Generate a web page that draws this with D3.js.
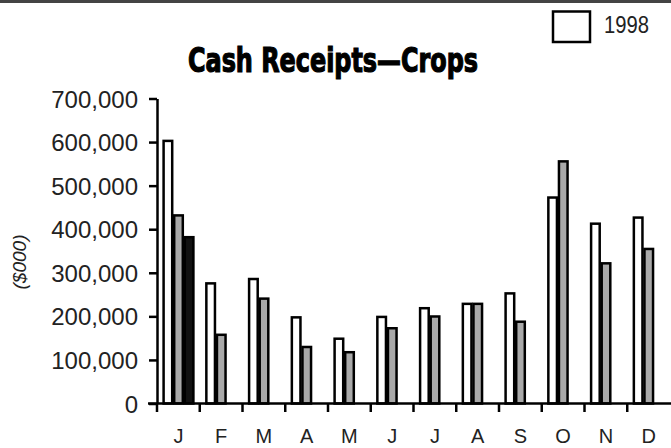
<!DOCTYPE html>
<html>
<head>
<meta charset="utf-8">
<script src="https://cdn.jsdelivr.net/npm/d3@7"></script>
<style>
  body { margin: 0; background: #fff; }
  svg { display: block; }
</style>
</head>
<body>
<div id="SVG_CONTAINER"></div>
<script>
// months along the x axis
const months = ["J", "F", "M", "A", "M", "J", "J", "A", "S", "O", "N", "D"];
const series = ["1998", "1999", "2000"];

// cash receipts, $000
const values1998 = [605000, 278000, 288000, 200000, 151000, 201000, 221000, 231000, 255000, 475000, 415000, 429000];
const values1999 = [434000, 160000, 243000, 132000, 120000, 175000, 202000, 231000, 190000, 558000, 324000, 357000];
const values2000 = [384000, null, null, null, null, null, null, null, null, null, null, null];

const yTicks = [0, 100000, 200000, 300000, 400000, 500000, 600000, 700000];

const width = 671, height = 448;

const svg = d3.select("#SVG_CONTAINER")
    .append("svg")
    .attr("width", width)
    .attr("height", height);

// dark scan edge on top
svg.append("rect")
    .attr("x", 0).attr("y", 0)
    .attr("width", width).attr("height", 3)
    .attr("fill", "#444");

// scales
const x = d3.scaleBand()
    .domain(d3.range(months.length))
    .range([157, 670])
    .padding(0);

const xInner = d3.scaleBand()
    .domain(series)
    .range([5.6, 37.4])
    .padding(0);

const y = d3.scaleLinear()
    .domain([0, 700000])
    .range([403.5, 98.5]);

const colour = d3.scaleOrdinal()
    .domain(series)
    .range(["#ffffff", "#a9a9a9", "#111111"]);

// title
svg.append("text")
    .attr("x", 333)
    .attr("y", 72)
    .attr("text-anchor", "middle")
    .attr("font-family", "'Liberation Sans Narrow', 'DejaVu Sans Condensed', 'Liberation Sans', sans-serif")
    .attr("font-weight", "bold")
    .attr("font-size", "34px")
    .attr("textLength", 290)
    .attr("lengthAdjust", "spacingAndGlyphs")
    .attr("stroke", "#000")
    .attr("stroke-width", 1.2)
    .text("Cash Receipts\u2014Crops");

// legend (only the first entry is visible in the frame)
svg.append("rect")
    .attr("x", 553).attr("y", 11.5)
    .attr("width", 37).attr("height", 30.5)
    .attr("fill", colour(series[0]))
    .attr("stroke", "#000")
    .attr("stroke-width", 2.5);
svg.append("text")
    .attr("x", 604).attr("y", 33)
    .attr("font-family", "'Liberation Sans', Arial, sans-serif")
    .attr("font-size", "23px")
    .attr("textLength", 45)
    .attr("lengthAdjust", "spacingAndGlyphs")
    .attr("fill", "#222")
    .text(series[0]);

// bars
const allValues = [values1998, values1999, values2000];
const flat = [];
months.forEach(function (m, i) {
    series.forEach(function (s, k) {
        if (allValues[k][i] != null) flat.push({ i: i, s: s, v: allValues[k][i] });
    });
});

svg.append("g")
    .selectAll("rect")
    .data(flat)
    .enter()
    .append("rect")
    .attr("x", d => x(d.i) + xInner(d.s) + 1)
    .attr("y", d => y(d.v) + 1)
    .attr("width", xInner.bandwidth() - 2)
    .attr("height", d => y(0) - y(d.v) - 1)
    .attr("fill", d => colour(d.s))
    .attr("stroke", "#000")
    .attr("stroke-width", 2.5);

// y axis
const yAxis = svg.append("g")
    .attr("transform", "translate(157,0)")
    .call(d3.axisLeft(y)
        .tickValues(yTicks)
        .tickSize(8)
        .tickPadding(11)
        .tickSizeOuter(0)
        .tickFormat(d3.format(",")));
yAxis.select(".domain").attr("stroke-width", 2.5);
yAxis.selectAll(".tick line").attr("stroke-width", 2.5);
yAxis.selectAll("text")
    .attr("font-family", "'Liberation Sans', Arial, sans-serif")
    .attr("font-size", "24px")
    .attr("fill", "#222")
    .attr("dy", "0.36em");

// x axis line + ticks at band edges
const xAxisG = svg.append("g");
xAxisG.append("line")
    .attr("x1", 148).attr("x2", 671)
    .attr("y1", y(0)).attr("y2", y(0))
    .attr("stroke", "#000")
    .attr("stroke-width", 2.5);
xAxisG.selectAll(".xtick")
    .data(d3.range(months.length))
    .enter()
    .append("line")
    .attr("class", "xtick")
    .attr("x1", d => x(d)).attr("x2", d => x(d))
    .attr("y1", y(0)).attr("y2", y(0) + 8.5)
    .attr("stroke", "#000")
    .attr("stroke-width", 2.5);
xAxisG.selectAll(".xlabel")
    .data(months)
    .enter()
    .append("text")
    .attr("class", "xlabel")
    .attr("x", (d, i) => x(i) + x.bandwidth() / 2)
    .attr("y", 443)
    .attr("text-anchor", "middle")
    .attr("font-family", "'Liberation Sans', Arial, sans-serif")
    .attr("font-size", "20px")
    .attr("fill", "#222")
    .text(d => d);

// y label
svg.append("text")
    .attr("transform", "translate(26,262) rotate(-90)")
    .attr("text-anchor", "middle")
    .attr("font-family", "'Liberation Sans', Arial, sans-serif")
    .attr("font-style", "italic")
    .attr("font-size", "19px")
    .attr("fill", "#222")
    .text("($000)");
</script>
</body>
</html>
